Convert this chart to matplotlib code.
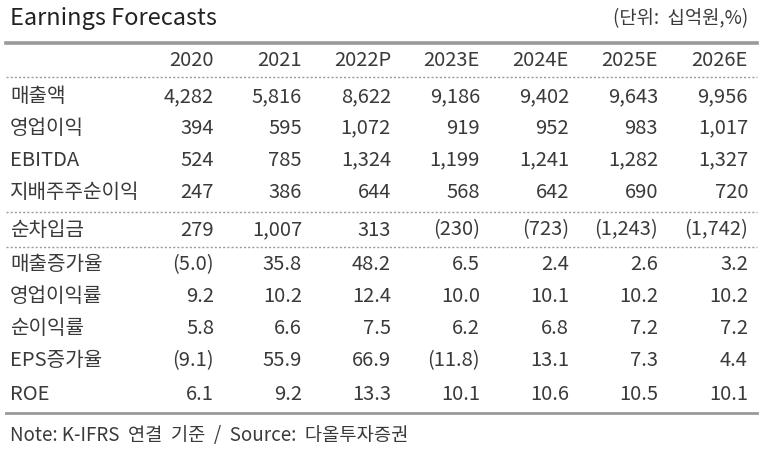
import matplotlib
matplotlib.use('Agg')
import matplotlib.pyplot as plt
from matplotlib.lines import Line2D

plt.rcParams['font.family'] = ['Noto Sans CJK KR', 'DejaVu Sans']
plt.rcParams['font.weight'] = 'light'

W, H = 773, 451
TITLE = 'Earnings Forecasts'
UNIT = '(단위:  십억원,%)'
NOTE = 'Note: K-IFRS  연결  기준  /  Source:  다올투자증권'

years = ['2020', '2021', '2022P', '2023E', '2024E', '2025E', '2026E']
row_labels = ['매출액', '영업이익', 'EBITDA', '지배주주순이익', '순차입금',
              '매출증가율', '영업이익률', '순이익률', 'EPS증가율', 'ROE']
values = [
    ['4,282', '5,816', '8,622', '9,186', '9,402', '9,643', '9,956'],
    ['394', '595', '1,072', '919', '952', '983', '1,017'],
    ['524', '785', '1,324', '1,199', '1,241', '1,282', '1,327'],
    ['247', '386', '644', '568', '642', '690', '720'],
    ['279', '1,007', '313', '(230)', '(723)', '(1,243)', '(1,742)'],
    ['(5.0)', '35.8', '48.2', '6.5', '2.4', '2.6', '3.2'],
    ['9.2', '10.2', '12.4', '10.0', '10.1', '10.2', '10.2'],
    ['5.8', '6.6', '7.5', '6.2', '6.8', '7.2', '7.2'],
    ['(9.1)', '55.9', '66.9', '(11.8)', '13.1', '7.3', '4.4'],
    ['6.1', '9.2', '13.3', '10.1', '10.6', '10.5', '10.1'],
]

# layout in pixels (from top-left)
col_right = [214, 302, 391, 480, 569, 658, 748]
row_y = [97, 128, 160, 192, 230, 265, 297, 329, 361, 395]
header_y = 60
x_left, x_right = 6, 757
TXT = '#3a3a3a'
FS = 14.5

fig = plt.figure(figsize=(W / 100, H / 100), dpi=100)


def fx(x):
    return x / W


def fy(y):
    return 1 - y / H


def hline(y, **kw):
    fig.add_artist(Line2D([fx(x_left), fx(x_right)], [fy(y), fy(y)],
                          transform=fig.transFigure, **kw))


fig.text(fx(10), fy(19), TITLE, fontsize=17, color='#222222', va='center', ha='left')
fig.text(fx(748), fy(19), UNIT, fontsize=13.5, color=TXT, va='center', ha='right')

hline(43, color='#9a9a9a', lw=2.6)
hline(77, color='#9a9a9a', lw=1.0, ls=(0, (1.5, 1.5)))
hline(212, color='#9a9a9a', lw=1.0, ls=(0, (1.5, 1.5)))
hline(247, color='#9a9a9a', lw=1.0, ls=(0, (1.5, 1.5)))
hline(413, color='#9a9a9a', lw=2.0)

for x, yr in zip(col_right, years):
    fig.text(fx(x), fy(header_y), yr, fontsize=FS, color=TXT, va='center', ha='right')

for y, lab, vals in zip(row_y, row_labels, values):
    fig.text(fx(10), fy(y), lab, fontsize=FS, color=TXT, va='center', ha='left')
    for x, v in zip(col_right, vals):
        fig.text(fx(x), fy(y), v, fontsize=FS, color=TXT, va='center', ha='right')

fig.text(fx(10), fy(436), NOTE, fontsize=13.5, color=TXT, va='center', ha='left')

fig.savefig('out.png', dpi=100, facecolor='white')
